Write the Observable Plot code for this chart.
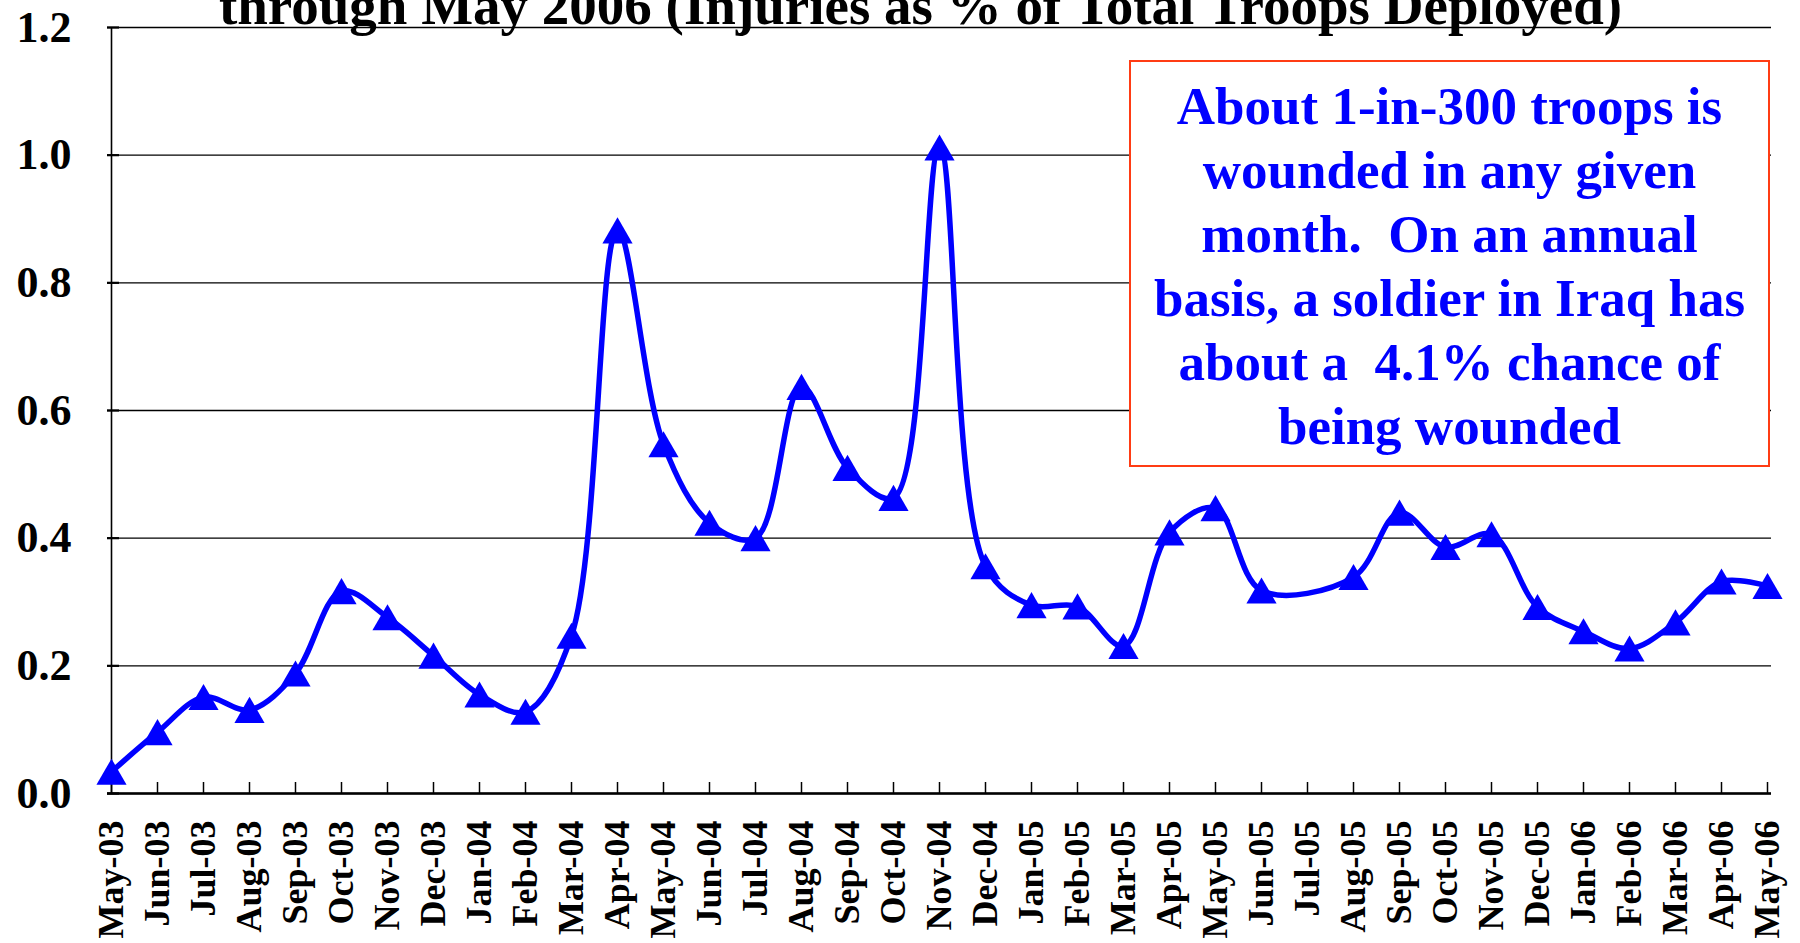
<!DOCTYPE html>
<html>
<head>
<meta charset="utf-8">
<script src="https://cdn.jsdelivr.net/npm/d3@7"></script>
<script src="https://cdn.jsdelivr.net/npm/@observablehq/plot@0.6"></script>
<style>
  html, body { margin: 0; padding: 0; background: #fff; }
  #wrap { position: relative; width: 1800px; height: 943px; overflow: hidden; }
  #note {
    position: absolute; left: 1129px; top: 60px; width: 641px; height: 407px;
    box-sizing: border-box; border: 2px solid #ff3c14; background: #fff;
    color: #0000ff; font-family: "Liberation Serif", "Times New Roman", serif;
    font-weight: bold; font-size: 53px; line-height: 64px; text-align: center;
    padding-top: 12px; white-space: pre;
  }
</style>
</head>
<body>
<div id="wrap"><div id="chart"></div><div id="note"></div></div>
<script>
const titleText = "through May 2006 (Injuries as % of Total Troops Deployed)";
const noteLines = [
  "About 1-in-300 troops is",
  "wounded in any given",
  "month.  On an annual",
  "basis, a soldier in Iraq has",
  "about a  4.1% chance of",
  "being wounded"
];
const months = [
  "May-03","Jun-03","Jul-03","Aug-03","Sep-03","Oct-03","Nov-03","Dec-03",
  "Jan-04","Feb-04","Mar-04","Apr-04","May-04","Jun-04","Jul-04","Aug-04",
  "Sep-04","Oct-04","Nov-04","Dec-04","Jan-05","Feb-05","Mar-05","Apr-05",
  "May-05","Jun-05","Jul-05","Aug-05","Sep-05","Oct-05","Nov-05","Dec-05",
  "Jan-06","Feb-06","Mar-06","Apr-06","May-06"
];
const injuryPct = [
  0.034, 0.096, 0.151, 0.131, 0.188, 0.317, 0.276, 0.216,
  0.155, 0.128, 0.247, 0.882, 0.547, 0.424, 0.400, 0.637,
  0.510, 0.463, 1.012, 0.356, 0.295, 0.293, 0.231, 0.409,
  0.447, 0.318, null, 0.339, 0.440, 0.386, 0.406, 0.292,
  0.254, 0.227, 0.268, 0.332, 0.325
];
const yTicks = [0, 0.2, 0.4, 0.6, 0.8, 1.0, 1.2];

const data = months.map((m, i) => ({month: m, value: injuryPct[i]}))
  .filter(d => d.value != null);

const serif = "'Liberation Serif', 'Times New Roman', serif";

const chart = Plot.plot({
  width: 1800,
  height: 943,
  marginLeft: 107,
  marginRight: 29,
  marginTop: 27,
  marginBottom: 150,
  style: {background: "transparent", fontFamily: serif, fontWeight: "bold", color: "#000"},
  x: {type: "point", domain: months, padding: 0, axis: null},
  y: {domain: [0, 1.2], axis: null},
  marks: [
    Plot.ruleY(yTicks, {stroke: "#000", strokeWidth: 1.4}),
    Plot.ruleY([0], {stroke: "#000", strokeWidth: 2.4}),
    Plot.ruleX([months[0]], {stroke: "#000", strokeWidth: 1.6}),
    Plot.axisY({ticks: yTicks, tickSize: 0, tickPadding: 36, tickFormat: d3.format(".1f"),
      fontSize: 44, fontWeight: "bold", fontFamily: serif, label: null}),
    Plot.axisY({ticks: yTicks, tickSize: 12, dx: 12, strokeWidth: 2.2, tickFormat: () => "", label: null}),
    Plot.axisX({tickSize: 11, dy: -11, strokeWidth: 1.5, tickFormat: () => "", label: null}),
    Plot.axisX({tickSize: 0, tickPadding: 27, tickRotate: -90, fontSize: 36,
      fontWeight: "bold", fontFamily: serif, label: null}),
    Plot.line(data, {x: "month", y: "value", curve: "catmull-rom", stroke: "#0000ff", strokeWidth: 5.5}),
    Plot.dot(data, {x: "month", y: "value", symbol: "triangle", r: 11.2, fill: "#0000ff", stroke: "none", dy: 4.3}),
    Plot.text([titleText], {frameAnchor: "top", lineAnchor: "bottom", dy: -4, dx: -19,
      fontSize: 55, fontWeight: "bold", fontFamily: serif, fill: "#000"})
  ]
});
document.getElementById("chart").appendChild(chart);
document.getElementById("note").textContent = noteLines.join("\n");
</script>
</body>
</html>
